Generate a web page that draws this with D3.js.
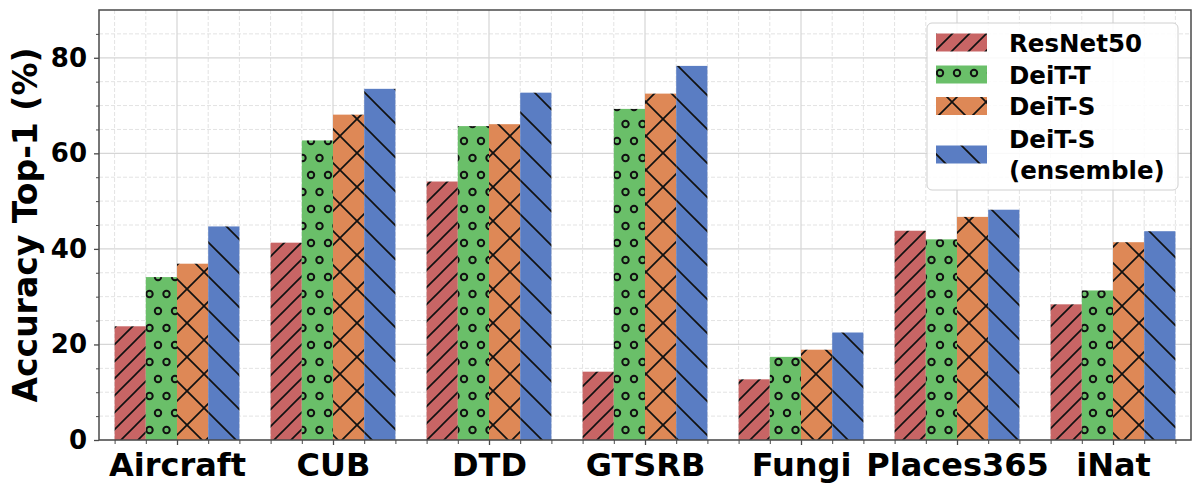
<!DOCTYPE html>
<html>
<head>
<meta charset="utf-8">
<script src="https://cdn.jsdelivr.net/npm/d3@7"></script>
<style>
  html, body { margin: 0; padding: 0; background: #fff; }
  svg { display: block; font-family: "DejaVu Sans", sans-serif; font-weight: bold; }
</style>
</head>
<body>
<svg id="chart" width="1200" height="487"></svg>
<script>
const categories = ["Aircraft", "CUB", "DTD", "GTSRB", "Fungi", "Places365", "iNat"];
const seriesNames = ["ResNet50", "DeiT-T", "DeiT-S", "DeiT-S\n(ensemble)"];
const resnet50   = [23.8, 41.3, 54.1, 14.3, 12.7, 43.8, 28.4];
const deitT      = [34.1, 62.7, 65.7, 69.3, 17.4, 42.0, 31.3];
const deitS      = [36.9, 68.1, 66.1, 72.5, 18.9, 46.7, 41.4];
const deitSEns   = [44.7, 73.5, 72.7, 78.3, 22.5, 48.2, 43.7];
const seriesValues = [resnet50, deitT, deitS, deitSEns];
const yTicks = [0, 20, 40, 60, 80];

const colors = ["#c86565", "#6abf69", "#de8856", "#5a7dc3"];
const hatchIds = ["hatchRed", "hatchGreen", "hatchOrange", "hatchBlue"];

const svg = d3.select("#chart");
const mLeft = 99, mRight = 1191, mTop = 10, mBottom = 440;

const x = d3.scaleLinear().domain([-0.5, categories.length - 0.5]).range([mLeft, mRight]);
const y = d3.scaleLinear().domain([0, 90]).range([mBottom, mTop]);

// ---- patterns ----
const defs = svg.append("defs");
function linePattern(id, color, P, dirs) {
  const p = defs.append("pattern").attr("id", id).attr("patternUnits", "userSpaceOnUse")
    .attr("width", P).attr("height", P);
  p.append("rect").attr("width", P).attr("height", P).attr("fill", color);
  const g = p.append("g").attr("stroke", "#111").attr("stroke-width", 1.7);
  if (dirs.includes("/")) {
    g.append("line").attr("x1", 0).attr("y1", P).attr("x2", P).attr("y2", 0);
    g.append("line").attr("x1", -2).attr("y1", 2).attr("x2", 2).attr("y2", -2);
    g.append("line").attr("x1", P - 2).attr("y1", P + 2).attr("x2", P + 2).attr("y2", P - 2);
  }
  if (dirs.includes("\\")) {
    g.append("line").attr("x1", 0).attr("y1", 0).attr("x2", P).attr("y2", P);
    g.append("line").attr("x1", P - 2).attr("y1", -2).attr("x2", P + 2).attr("y2", 2);
    g.append("line").attr("x1", -2).attr("y1", P - 2).attr("x2", 2).attr("y2", P + 2);
  }
}
linePattern("hatchRed", colors[0], 17, ["/"]);
linePattern("hatchOrange", colors[2], 34, ["/", "\\"]);
linePattern("hatchBlue", colors[3], 34, ["\\"]);
{
  const W = 17, H = 34;
  const p = defs.append("pattern").attr("id", "hatchGreen").attr("patternUnits", "userSpaceOnUse")
    .attr("width", W).attr("height", H);
  p.append("rect").attr("width", W).attr("height", H).attr("fill", colors[1]);
  const pts = [[5, 5], [5 + W, 5], [5 + W / 2, 5 + H / 2], [5 - W / 2, 5 + H / 2], [5, 5 + H]];
  p.selectAll("circle").data(pts).enter().append("circle")
    .attr("cx", d => d[0]).attr("cy", d => d[1]).attr("r", 3.2)
    .attr("fill", "none").attr("stroke", "#111").attr("stroke-width", 2);
}

// ---- grid ----
const grid = svg.append("g");
const yMinor = d3.range(5, 90, 5).filter(v => v % 20 !== 0);
grid.selectAll("line.ymin").data(yMinor).enter().append("line")
  .attr("x1", mLeft).attr("x2", mRight).attr("y1", d => y(d)).attr("y2", d => y(d))
  .attr("stroke", "#e3e3e3").attr("stroke-width", 1).attr("stroke-dasharray", "4,2");
const xMinor = [];
categories.forEach((c, i) => { [-0.4, -0.2, 0.2, 0.4].forEach(o => xMinor.push(i + o)); });
grid.selectAll("line.xmin").data(xMinor).enter().append("line")
  .attr("y1", mTop).attr("y2", mBottom).attr("x1", d => x(d)).attr("x2", d => x(d))
  .attr("stroke", "#e3e3e3").attr("stroke-width", 1).attr("stroke-dasharray", "4,2");
grid.selectAll("line.ymaj").data(yTicks).enter().append("line")
  .attr("x1", mLeft).attr("x2", mRight).attr("y1", d => y(d)).attr("y2", d => y(d))
  .attr("stroke", "#d6d6d6").attr("stroke-width", 1.2);
grid.selectAll("line.xmaj").data(d3.range(categories.length)).enter().append("line")
  .attr("y1", mTop).attr("y2", mBottom).attr("x1", d => x(d)).attr("x2", d => x(d))
  .attr("stroke", "#d6d6d6").attr("stroke-width", 1.2);

// ---- bars ----
const barW = 0.2;
seriesValues.forEach((vals, j) => {
  svg.append("g").selectAll("rect").data(vals).enter().append("rect")
    .attr("x", (d, i) => x(i - 0.4 + barW * j))
    .attr("width", x(barW) - x(0))
    .attr("y", d => y(d))
    .attr("height", d => y(0) - y(d))
    .attr("fill", `url(#${hatchIds[j]})`);
});

// ---- spines ----
svg.append("rect").attr("x", mLeft).attr("y", mTop).attr("width", mRight - mLeft).attr("height", mBottom - mTop)
  .attr("fill", "none").attr("stroke", "#4a4a4a").attr("stroke-width", 1.5);

// ---- axes ----
const yAxis = d3.axisLeft(y).tickValues(yTicks).tickSize(5).tickPadding(7).tickFormat(d3.format("d"));
const yg = svg.append("g").attr("transform", `translate(${mLeft},0)`).call(yAxis);
yg.select(".domain").remove();
yg.selectAll(".tick line").attr("stroke", "#4a4a4a").attr("stroke-width", 1.3);
yg.selectAll(".tick text").attr("font-size", 26).attr("font-weight", "bold")
  .attr("font-family", "DejaVu Sans").attr("fill", "#000");
const yMinorAxis = d3.axisLeft(y).tickValues(yMinor).tickSize(3).tickFormat("");
const ymg = svg.append("g").attr("transform", `translate(${mLeft},0)`).call(yMinorAxis);
ymg.select(".domain").remove();
ymg.selectAll(".tick line").attr("stroke", "#4a4a4a").attr("stroke-width", 1);

const xAxis = d3.axisBottom(x).tickValues(d3.range(categories.length)).tickSize(5).tickPadding(8)
  .tickFormat(i => categories[i]);
const xg = svg.append("g").attr("transform", `translate(0,${mBottom})`).call(xAxis);
xg.select(".domain").remove();
xg.selectAll(".tick line").attr("stroke", "#4a4a4a").attr("stroke-width", 1.3);
xg.selectAll(".tick text").attr("font-size", 32).attr("font-weight", "bold")
  .attr("font-family", "DejaVu Sans").attr("fill", "#000");
const xMinorAxis = d3.axisBottom(x).tickValues(xMinor).tickSize(4).tickFormat("");
const xmg = svg.append("g").attr("transform", `translate(0,${mBottom})`).call(xMinorAxis);
xmg.select(".domain").remove();
xmg.selectAll(".tick line").attr("stroke", "#4a4a4a").attr("stroke-width", 1);

// y label
svg.append("text")
  .attr("transform", `translate(37,${(mTop + mBottom) / 2}) rotate(-90)`)
  .attr("text-anchor", "middle").attr("font-size", 33).attr("fill", "#000")
  .text("Accuracy Top-1 (%)");

// ---- legend ----
const lg = svg.append("g");
lg.append("rect").attr("x", 927).attr("y", 23).attr("width", 251).attr("height", 167)
  .attr("rx", 5).attr("fill", "rgba(255,255,255,0.85)").attr("stroke", "#d0d0d0").attr("stroke-width", 1);
const patchY = [42.5, 74.5, 106, 154.5];
seriesNames.forEach((name, j) => {
  lg.append("rect").attr("x", 936).attr("y", patchY[j] - 9).attr("width", 51).attr("height", 18)
    .attr("fill", `url(#${hatchIds[j]})`);
  const lines = name.split("\n");
  const t = lg.append("text").attr("x", 1009).attr("font-size", 24.5).attr("fill", "#000");
  lines.forEach((ln, k) => {
    t.append("tspan").attr("x", 1009)
      .attr("y", patchY[j] + 9 + (k - (lines.length - 1) / 2) * 31)
      .text(ln);
  });
});
</script>
</body>
</html>
